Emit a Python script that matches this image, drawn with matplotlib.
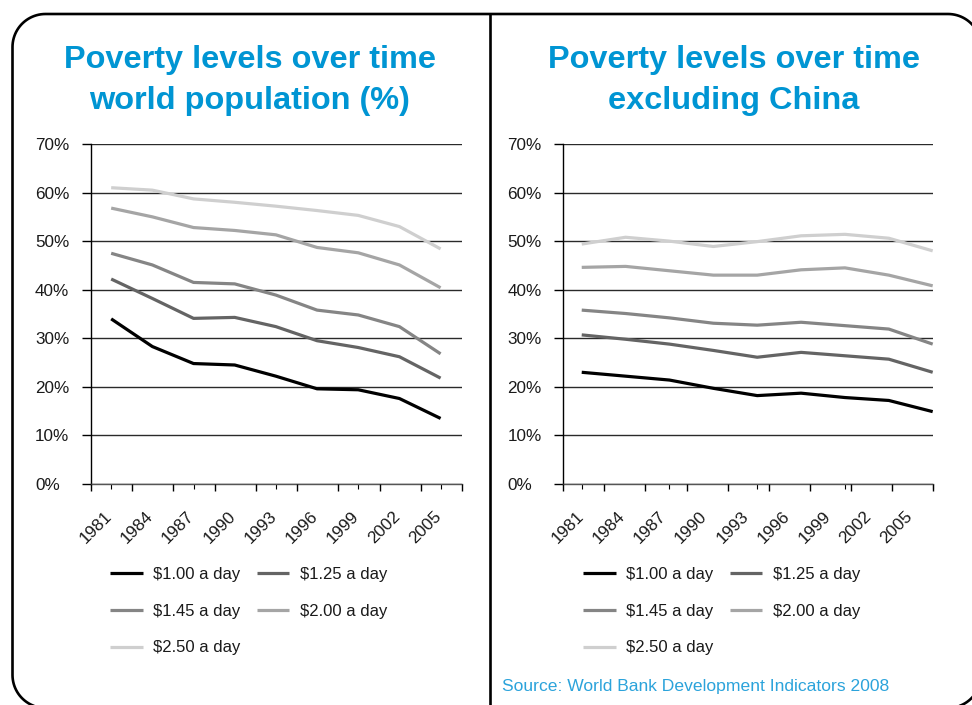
import matplotlib
matplotlib.use('Agg')
import matplotlib.pyplot as plt
from matplotlib.patches import PathPatch
from matplotlib.path import Path
from matplotlib.lines import Line2D
from matplotlib.transforms import IdentityTransform, ScaledTranslation
import numpy as np

plt.rcParams['font.family'] = ['Liberation Sans', 'DejaVu Sans']

# ---------------- data ----------------
years = ['1981', '1984', '1987', '1990', '1993', '1996', '1999', '2002', '2005']
series_names = [r'\$1.00 a day', r'\$1.25 a day', r'\$1.45 a day', r'\$2.00 a day', r'\$2.50 a day']
y_ticks = [0, 10, 20, 30, 40, 50, 60, 70]
y_tick_labels = ['0%', '10%', '20%', '30%', '40%', '50%', '60%', '70%']

world_100 = [34.0, 28.3, 24.8, 24.5, 22.2, 19.6, 19.4, 17.6, 13.5]
world_125 = [42.2, 38.2, 34.1, 34.3, 32.4, 29.5, 28.1, 26.2, 21.8]
world_145 = [47.5, 45.1, 41.5, 41.2, 38.9, 35.8, 34.8, 32.4, 26.8]
world_200 = [56.8, 55.0, 52.8, 52.2, 51.3, 48.7, 47.6, 45.1, 40.4]
world_250 = [61.0, 60.5, 58.7, 58.0, 57.2, 56.3, 55.3, 53.0, 48.4]

exchina_100 = [23.0, 22.2, 21.4, 19.7, 18.2, 18.7, 17.8, 17.2, 14.9]
exchina_125 = [30.7, 29.8, 28.8, 27.5, 26.1, 27.1, 26.4, 25.7, 23.0]
exchina_145 = [35.8, 35.1, 34.2, 33.1, 32.7, 33.3, 32.6, 31.9, 28.8]
exchina_200 = [44.6, 44.8, 43.9, 43.0, 43.0, 44.1, 44.5, 43.0, 40.8]
exchina_250 = [49.4, 50.8, 50.0, 48.9, 49.9, 51.1, 51.4, 50.6, 48.0]

colors = ['#000000', '#646464', '#858585', '#a5a5a5', '#cfcfcf']
title_blue = '#0095D3'
source_blue = '#2BA3DB'
text_col = '#1a1a1a'

W, H = 972, 705
fig = plt.figure(figsize=(W / 100, H / 100), dpi=100)
fig.patch.set_facecolor('white')


# ---------------- frame (decoration, pixel coordinates) ----------------
def rounded_rect_path(x0, y0, x1, y1, r, n=24):
    pts = []
    corners = [((x1 - r, y1 - r), 0, 90), ((x0 + r, y1 - r), 90, 180),
               ((x0 + r, y0 + r), 180, 270), ((x1 - r, y0 + r), 270, 360)]
    for (cx, cy), a0, a1 in corners:
        t = np.radians(np.linspace(a0, a1, n))
        pts.extend(zip(cx + r * np.cos(t), cy + r * np.sin(t)))
    pts.append(pts[0])
    return Path(pts)


frame = PathPatch(rounded_rect_path(12.5, H - 708, 981, H - 14, 33),
                  transform=IdentityTransform(), fill=False,
                  edgecolor='black', linewidth=1.9, zorder=0)
fig.patches.append(frame)
fig.lines.append(Line2D([490, 490], [0, H - 14], transform=IdentityTransform(),
                        color='black', linewidth=1.9))


def px_rect(x0, x1, ytop, ybot):
    return [x0 / W, 1 - ybot / H, (x1 - x0) / W, (ybot - ytop) / H]


def panel(rect, data, line_xlim, legend_xy):
    ax = fig.add_axes(rect)
    ax.set_ylim(0, 70)
    ax.set_xlim(*line_xlim)
    lines = []
    for vals, name, c in zip(data, series_names, colors):
        ln, = ax.plot(range(len(vals)), vals, color=c, lw=2.3,
                      solid_joinstyle='round', solid_capstyle='butt',
                      label=name, zorder=3, clip_on=False)
        lines.append(ln)
    ax.set_yticks(y_ticks)
    ax.set_yticklabels(y_tick_labels, ha='left')
    ax.yaxis.grid(True, color='#2a2a2a', lw=1.0)
    ax.set_axisbelow(True)
    ax.tick_params(axis='y', length=6.5, width=1.0, color='black', pad=33.8,
                   labelsize=12.3, labelcolor=text_col)
    ax.tick_params(axis='x', bottom=False, labelbottom=False)
    for s in ['top', 'right']:
        ax.spines[s].set_visible(False)
    ax.spines['left'].set_color('black')
    ax.spines['left'].set_linewidth(1.0)
    ax.spines['bottom'].set_color('#555555')
    ax.spines['bottom'].set_linewidth(1.0)

    cat = ax.twiny()
    cat.set_xlim(0, len(years))
    cat.xaxis.set_ticks_position('bottom')
    cat.xaxis.set_label_position('bottom')
    cat.set_xticks(np.arange(len(years) + 1))
    cat.set_xticklabels([''] * (len(years) + 1))
    cat.tick_params(axis='x', which='major', length=5, width=1.0, color='black',
                    direction='out')
    for s in cat.spines.values():
        s.set_visible(False)
    off = ScaledTranslation(-7.5 / 100, -25 / 100, fig.dpi_scale_trans)
    tr = cat.get_xaxis_transform() + off
    for i, yr in enumerate(years):
        cat.text(i + 0.5, 0, yr, transform=tr, rotation=45, ha='right',
                 va='top', rotation_mode='anchor', fontsize=12.3,
                 color=text_col)

    order = [0, 2, 4, 1, 3]
    fig.legend([lines[i] for i in order], [series_names[i] for i in order],
               ncol=2, loc='upper left',
               bbox_to_anchor=(legend_xy[0] / W, 1 - legend_xy[1] / H),
               bbox_transform=fig.transFigure, frameon=False,
               fontsize=12, handlelength=1.95, handletextpad=0.65,
               columnspacing=0.95, labelspacing=1.3, borderpad=0,
               borderaxespad=0, labelcolor=text_col)
    return ax


panel(px_rect(91, 462, 144, 484),
      [world_100, world_125, world_145, world_200, world_250],
      (-0.49, 8.52), (110, 567))
panel(px_rect(563.3, 933, 144, 484),
      [exchina_100, exchina_125, exchina_145, exchina_200, exchina_250],
      (-0.42, 8.007), (583, 567))

# ---------------- titles ----------------
for cx, l1, l2 in [(250, 'Poverty levels over time', 'world population (%)'),
                   (733.5, 'Poverty levels over time', 'excluding China')]:
    fig.text(cx / W, 1 - 67.7 / H, l1, ha='center', va='baseline',
             fontsize=23.4, fontweight='bold', color=title_blue)
    fig.text(cx / W, 1 - 109.5 / H, l2, ha='center', va='baseline',
             fontsize=23.4, fontweight='bold', color=title_blue)

fig.text(502 / W, 1 - 686 / H, 'Source: World Bank Development Indicators 2008',
         ha='left', va='center', fontsize=12.6, color=source_blue)

fig.savefig('out.png', dpi=100)
